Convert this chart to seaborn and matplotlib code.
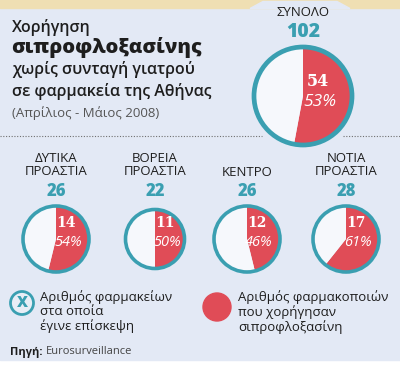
import matplotlib.pyplot as plt
from matplotlib.patches import Circle, Polygon, Rectangle
import seaborn as sns

total_label = "ΣΥΝΟΛΟ"
total_visited = 102
total_gave = 54

regions = ["ΔΥΤΙΚΑ\nΠΡΟΑΣΤΙΑ", "ΒΟΡΕΙΑ\nΠΡΟΑΣΤΙΑ", "ΚΕΝΤΡΟ", "ΝΟΤΙΑ\nΠΡΟΑΣΤΙΑ"]
visited = [26, 22, 26, 28]
gave = [14, 11, 12, 17]

title_lines = ["Χορήγηση", "σιπροφλοξασίνης", "χωρίς συνταγή γιατρού", "σε φαρμακεία της Αθήνας"]
subtitle = "(Απρίλιος - Μάιος 2008)"
legend_visited = "Αριθμός φαρμακείων\nστα οποία\nέγινε επίσκεψη"
legend_gave = "Αριθμός φαρμακοποιών\nπου χορήγησαν\nσιπροφλοξασίνη"
source = "Eurosurveillance"

sns.set_theme(style="white")
plt.rcParams["font.family"] = ["Open Sans", "DejaVu Sans"]

W, H = 400, 371
BG = "#e3e9f5"
TEAL = "#3a9fb1"
RED = "#e04c57"
PIE_WHITE = "#f6f8fc"
DARK = "#1e1e1e"


def Y(y):
    # pixel row (top = 0) to data y
    return H - y


fig = plt.figure(figsize=(4.0, 3.71), dpi=100)
ax = fig.add_axes([0, 0, 1, 1])

# panel, top band and the tab behind ΣΥΝΟΛΟ
ax.add_patch(Rectangle((0, Y(360)), W, 360, color=BG, zorder=0))
ax.add_patch(Rectangle((0, Y(8)), W, 8, color="#efdfb3", zorder=1))
ax.add_patch(Polygon([(250, Y(8.5)), (263, Y(1.5)), (337, Y(1.5)), (350, Y(8.5))],
                     closed=True, color=BG, zorder=2))

# dotted separators
ax.plot([0, 262], [Y(136), Y(136)], ls=(0, (1, 1.5)), color="#707070", lw=0.8, zorder=2)
ax.plot([343, 400], [Y(136), Y(136)], ls=(0, (1, 1.5)), color="#707070", lw=0.8, zorder=2)

# title block
ax.text(12, Y(27), title_lines[0], fontsize=11.5, fontweight="semibold", color=DARK, va="center")
ax.text(11, Y(48), title_lines[1], fontsize=14.5, fontweight="heavy", color=DARK, va="center")
ax.text(12, Y(70), title_lines[2], fontsize=11.5, fontweight="semibold", color=DARK, va="center")
ax.text(12, Y(91), title_lines[3], fontsize=11.5, fontweight="semibold", color=DARK, va="center")
ax.text(12, Y(113), subtitle, fontsize=9.5, color="#555555", va="center")


def draw_pie(cx, cy, r, n_visited, n_gave, ring_lw, num_size, pct_size, num_dy, pct_dy, dx):
    ax.pie([n_gave, n_visited - n_gave], colors=[RED, PIE_WHITE], startangle=90,
           counterclock=False, center=(cx, Y(cy)), radius=r,
           wedgeprops=dict(linewidth=0), frame=True)
    ax.add_patch(Circle((cx, Y(cy)), r, fill=False, edgecolor=TEAL, lw=ring_lw, zorder=5))
    pct = round(100 * n_gave / n_visited)
    ax.text(cx + dx, Y(cy + num_dy), str(n_gave), fontsize=num_size, fontweight="bold",
            family="DejaVu Serif", color="white", ha="center", va="center", zorder=6)
    ax.text(cx + dx + 2, Y(cy + pct_dy), f"{pct}%", fontsize=pct_size, style="italic",
            color="white", ha="center", va="center", zorder=6)


# total
ax.text(303, Y(12), total_label, fontsize=9.5, color=DARK, ha="center", va="center")
ax.text(303, Y(32), str(total_visited), fontsize=14, fontweight="heavy", color=TEAL,
        ha="center", va="center")
draw_pie(303, 96, 49, total_visited, total_gave, 3.4, 11.5, 12.5, -14, 6, 15)

# regions
centers = [56, 155, 247, 346]
radii = [33, 29.5, 33, 33]
for x, lab, v, g, r in zip(centers, regions, visited, gave, radii):
    if "\n" in lab:
        ax.text(x, Y(165), lab, fontsize=9.5, color=DARK, ha="center", va="center",
                linespacing=1.05)
    else:
        ax.text(x, Y(172), lab, fontsize=9.5, color=DARK, ha="center", va="center")
    ax.text(x, Y(192), str(v), fontsize=12, fontweight="heavy", color=TEAL,
            ha="center", va="center")
    draw_pie(x, 239, r, v, g, 2.6, 10, 10.5, -16, 4, 10)

# legend
ax.add_patch(Circle((22, Y(303)), 11.5, facecolor="#e8eef6", edgecolor=TEAL, lw=2, zorder=5))
ax.text(22, Y(303), "X", fontsize=11, fontweight="heavy", color=TEAL,
        ha="center", va="center", zorder=6)
ax.text(40, Y(312), legend_visited, fontsize=9.5, color=DARK, va="center", linespacing=1.1)
ax.add_patch(Circle((217, Y(307)), 14, color=RED, zorder=5))
ax.text(238, Y(312), legend_gave, fontsize=9.5, color=DARK, va="center", linespacing=1.1)

# source
ax.text(10, Y(352), "Πηγή:", fontsize=8, fontweight="bold", color=DARK, va="center")
ax.text(46, Y(352), source, fontsize=8, color="#444444", va="center")

ax.set_xlim(0, W)
ax.set_ylim(0, H)
ax.set_aspect("equal")
ax.axis("off")

fig.savefig("out.png", dpi=100, facecolor="white")
